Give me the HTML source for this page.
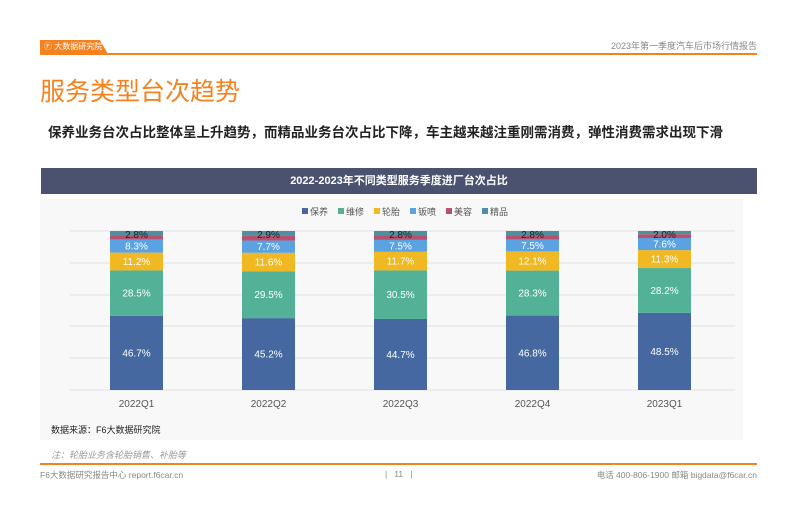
<!DOCTYPE html>
<html><head><meta charset="utf-8"><style>
body{margin:0;width:800px;height:520px;background:#fff;position:relative;overflow:hidden;font-family:"Liberation Sans","Noto Sans CJK SC",sans-serif}
.a{position:absolute}
</style></head><body>
<div class="a" style="left:40px;top:40px;width:68px;height:14px;background:#f5821f;clip-path:polygon(0 0,88% 0,100% 100%,0 100%);color:#fff;font-size:8px;line-height:14px;padding-left:4px;box-sizing:border-box">Ⓕ 大数据研究院</div>
<div class="a" style="left:40px;top:53px;width:717px;height:2px;background:#f5821f"></div>
<div class="a" style="right:43px;top:39px;font-size:9px;color:#888">2023年第一季度汽车后市场行情报告</div>
<div class="a" style="left:40px;top:72px;font-size:25px;color:#f5821f">服务类型台次趋势</div>
<div class="a" style="left:40px;top:122px;width:701px;height:28px;background:#fff;font-size:13.5px;font-weight:bold;color:#222;padding-left:8px;line-height:22px;box-sizing:border-box">保养业务台次占比整体呈上升趋势，而精品业务台次占比下降，车主越来越注重刚需消费，弹性消费需求出现下滑</div>
<div class="a" style="left:40px;top:199px;width:703px;height:241px;background:#f8f8f8"></div>
<div class="a" style="left:41px;top:168px;width:716px;height:26px;background:#4a5270;color:#fff;font-size:11px;font-weight:bold;text-align:center;line-height:26px">2022-2023年不同类型服务季度进厂台次占比</div>
<svg class="a" style="left:0;top:0" width="800" height="520">
<g font-size="9" fill="#555">
<rect x="302" y="208" width="6" height="6" fill="#44689f"/><text x="310" y="215">保养</text>
<rect x="338" y="208" width="6" height="6" fill="#52b196"/><text x="346" y="215">维修</text>
<rect x="374" y="208" width="6" height="6" fill="#f0b822"/><text x="382" y="215">轮胎</text>
<rect x="410" y="208" width="6" height="6" fill="#5ba2e3"/><text x="418" y="215">钣喷</text>
<rect x="446" y="208" width="6" height="6" fill="#b9506e"/><text x="454" y="215">美容</text>
<rect x="482" y="208" width="6" height="6" fill="#4e8fa0"/><text x="490" y="215">精品</text>
</g>
<g stroke="#e0e0e0" stroke-width="1">
<line x1="70" x2="735" y1="231" y2="231"/><line x1="70" x2="735" y1="263" y2="263"/><line x1="70" x2="735" y1="295" y2="295"/><line x1="70" x2="735" y1="326" y2="326"/><line x1="70" x2="735" y1="358" y2="358"/><line x1="70" x2="735" y1="390" y2="390"/>
</g>
<g id="bars"></g>
<g font-size="10" fill="#555" text-anchor="middle">
<text x="136.5" y="407">2022Q1</text><text x="268.5" y="407">2022Q2</text><text x="400.5" y="407">2022Q3</text><text x="532.5" y="407">2022Q4</text><text x="664.5" y="407">2023Q1</text>
</g>
</svg>
<div class="a" style="left:51px;top:423px;font-size:9px;color:#222">数据来源：F6大数据研究院</div>
<div class="a" style="left:51px;top:448px;font-size:9px;color:#999;font-style:italic">注：轮胎业务含轮胎销售、补胎等</div>
<div class="a" style="left:40px;top:463px;width:717px;height:2px;background:#f5821f"></div>
<div class="a" style="left:40px;top:469px;font-size:8.5px;color:#888">F6大数据研究报告中心 report.f6car.cn</div>
<div class="a" style="left:385px;top:469px;font-size:8.5px;color:#888">|&nbsp;&nbsp;&nbsp;11&nbsp;&nbsp;&nbsp;|</div>
<div class="a" style="right:43px;top:469px;font-size:8.5px;color:#888">电话 400-806-1900 邮箱 bigdata@f6car.cn</div>
<script>
var d=[[46.7,28.5,11.2,8.3,2.5,2.8],[45.2,29.5,11.6,7.7,3.1,2.9],[44.7,30.5,11.7,7.5,2.8,2.8],[46.8,28.3,12.1,7.5,2.5,2.8],[48.5,28.2,11.3,7.6,2.4,2.0]];
var c=["#44689f","#52b196","#f0b822","#5ba2e3","#b9506e","#4e8fa0"];
var s="";d.forEach(function(r,i){var x=110+132*i,y=390,t=r.reduce(function(a,b){return a+b},0);
r.forEach(function(v,j){var h=v/t*159;y-=h;s+='<rect x="'+x+'" y="'+y+'" width="53" height="'+h+'" fill="'+c[j]+'"/>';
if(j!=4){var ty=j==5?y+7:y+h/2+3.5;s+='<text x="'+(x+26.5)+'" y="'+ty+'" font-size="10" text-anchor="middle" fill="'+(j==5?'#222':'#fff')+'">'+v.toFixed(1)+'%</text>';}});});
document.getElementById("bars").innerHTML=s;
</script>
</body></html>
